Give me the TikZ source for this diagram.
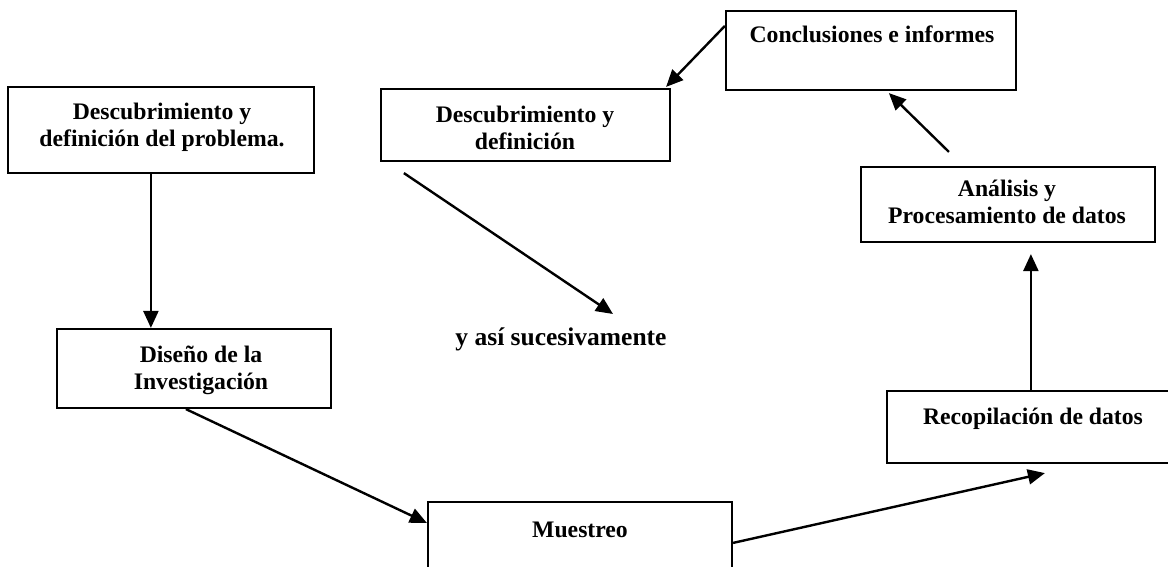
\documentclass[tikz,border=0pt]{standalone}
\usepackage{fontspec}
\setmainfont{Liberation Serif}
\usetikzlibrary{arrows.meta,calc}
\begin{document}
\begin{tikzpicture}[x=1pt,y=-1pt,
  box/.style={draw, line width=2.2pt, rectangle, inner sep=0pt},
  lbl/.style={inner sep=0pt, align=center, font=\fontsize{23.7}{27}\selectfont\bfseries},
  big/.style={inner sep=0pt, font=\fontsize{25.5}{29}\selectfont\bfseries},
  arr/.style={line width=2.4pt, -{Triangle[length=17pt,width=15pt]}}]
\clip (0,0) rectangle (1168,567);
\fill[white] (0,0) rectangle (1168,567);
% boxes
\node[box, minimum width=306pt, minimum height=86pt] (A) at (161,130) {};
\node[box, minimum width=274pt, minimum height=79pt] (B) at (194,368.5) {};
\node[box, minimum width=304pt, minimum height=118pt] (C) at (580,561) {};
\node[box, minimum width=313pt, minimum height=72pt] (D) at (1043.5,427) {};
\node[box, minimum width=294pt, minimum height=75pt] (E) at (1008,204.5) {};
\node[box, minimum width=290pt, minimum height=79pt] (F) at (871,50.5) {};
\node[box, minimum width=289pt, minimum height=72pt] (G) at (525.5,125) {};
% texts
\node[lbl] (At) at (162,127.5) {Descubrimiento y\\definición del problema.};
\node[lbl] (Bt) at (201,370) {Diseño de la\\Investigación};
\node[lbl, anchor=base] (Ct) at (580,537) {Muestreo};
\node[lbl, anchor=base] (Dt) at (1033,424) {Recopilación de datos};
\node[lbl] (Et) at (1007,202) {Análisis y\\Procesamiento de datos};
\node[lbl, anchor=base] (Ft) at (872,43) {Conclusiones e informes};
\node[lbl] (Gt) at (525,127.5) {Descubrimiento y\\definición};
\node[big, anchor=base] (S) at (561,345) {y así sucesivamente};
% connectors
\draw[arr] ($(A.south west)+(144,0)$) -- ($(B.north west)+(95,0)$);
\draw[arr] ($(B.south west)+(130,0)$) -- ($(C.north west)+(0,22)$);
\draw[arr] ($(C.north east)+(0,42)$) -- ($(D.south west)+(159,9)$);
\draw[arr] ($(D.north west)+(145,0)$) -- ($(E.south west)+(171,11)$);
\draw[arr] ($(E.north west)+(89,-14)$) -- ($(F.south west)+(164,2)$);
\draw[arr] ($(F.north west)+(0,16)$) -- ($(G.north east)+(-5,-1)$);
\draw[arr] ($(G.south west)+(24,11)$) -- ($(S.base)+(52,-31)$);
\end{tikzpicture}
\end{document}
